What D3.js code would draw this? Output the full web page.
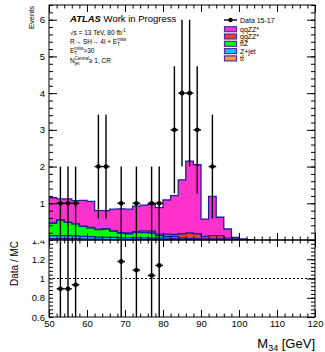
<!DOCTYPE html>
<html lang="en">
<head>
    <meta charset="UTF-8">
    <title>M34 control region</title>
    <script src="https://d3js.org/d3.v7.min.js"></script>
    <style>
        body { margin: 0; background: white; }
        svg { font-family: "Liberation Sans", Arial, Helvetica, sans-serif; }
        .axis path { display: none; }
        .axis line { stroke: black; stroke-width: 1; }
        .axis text { fill: black; }
    </style>
</head>
<body>
    <div id="chart"></div>

    <script>
        // bins are 2 GeV wide, low edges; everything above 104 GeV is empty
        var binLow = [50, 52, 54, 56, 58, 60, 62, 64, 66, 68, 70, 72, 74, 76, 78,
                      80, 82, 84, 86, 88, 90, 92, 94, 96, 98, 100, 102];
        var binWidth = 2;

        var dataCounts = [0, 1, 1, 1, 0, 0, 2, 2, 0, 1, 0, 1, 0, 1, 1,
                          0, 3, 4, 4, 3, 0, 2, 0, 0, 0, 0, 0];

        // stack, bottom to top
        var ttbar = [0.04, 0.04, 0.04, 0.04, 0.03, 0.02, 0.02, 0.01, 0.01, 0.01, 0.01, 0.01, 0.01, 0.01, 0.01,
                     0.01, 0, 0, 0, 0, 0, 0, 0, 0, 0, 0, 0];
        var zjet = [0.08, 0.08, 0.08, 0.07, 0.07, 0.07, 0.06, 0.06, 0.06, 0.05, 0.05, 0.05, 0.05, 0.04, 0.04,
                    0.04, 0.04, 0.03, 0.02, 0.02, 0.02, 0.02, 0.02, 0.01, 0.01, 0, 0];
        var ttZ = [0.34, 0.43, 0.36, 0.33, 0.27, 0.24, 0.20, 0.23, 0.17, 0.13, 0.11, 0.15, 0.14, 0.14, 0.07,
                   0.05, 0.05, 0.03, 0.02, 0.01, 0.01, 0, 0, 0, 0, 0, 0];
        var ggZZ = [0, 0, 0, 0, 0.01, 0.01, 0.01, 0.01, 0.01, 0.01, 0.02, 0.02, 0.05, 0.05, 0.04,
                    0.06, 0.06, 0.11, 0.15, 0.14, 0.07, 0.10, 0.10, 0.04, 0.02, 0.01, 0];
        var qqZZ = [0.69, 0.57, 0.64, 0.63, 0.70, 0.71, 0.51, 0.49, 0.59, 0.65, 0.65, 0.69, 0.70, 0.73, 0.72,
                    0.93, 1.06, 1.47, 1.96, 1.88, 0.47, 1.07, 0.50, 0.25, 0.04, 0.02, 0];

        var samples = [
            { key: "ttbar", label: "tt\u0304", values: ttbar, color: "#ff9a3c" },
            { key: "zjet", label: "Z+jet", values: zjet, color: "#00c8ff" },
            { key: "ttZ", label: "ttZ", values: ttZ, color: "#00ff00" },
            { key: "ggZZ", label: "ggZZ*", values: ggZZ, color: "#ff3636" },
            { key: "qqZZ", label: "qqZZ*", values: qqZZ, color: "#ff33cc" }
        ];
        var outline = "#1f1f9c";

        var xTicksMajor = [50, 60, 70, 80, 90, 100, 110, 120];
        var yTicksMain = [1, 2, 3, 4, 5, 6];
        var yTicksRatio = [0.6, 0.8, 1, 1.2, 1.4];
        var yTickLabelsRatio = ["0.6", "0.8", "1", "1.2", "1.4"];

        var W = 325, H = 352;
        var left = 49, right = 315;
        var mainTop = 5, mainBottom = 240;
        var ratioTop = 240, ratioBottom = 317;

        var svg = d3.select("#chart").append("svg")
            .attr("width", W)
            .attr("height", H);

        svg.append("rect").attr("width", W).attr("height", H).attr("fill", "white");

        var x = d3.scaleLinear().domain([50, 120]).range([left, right]);
        var y = d3.scaleLinear().domain([0, 6.4]).range([mainBottom, mainTop]);
        var yr = d3.scaleLinear().domain([0.6, 1.4]).range([ratioBottom, ratioTop]);

        var defs = svg.append("defs");
        defs.append("clipPath").attr("id", "clipMain").append("rect")
            .attr("x", left).attr("y", mainTop).attr("width", right - left).attr("height", mainBottom - mainTop);
        defs.append("clipPath").attr("id", "clipRatio").append("rect")
            .attr("x", left).attr("y", ratioTop).attr("width", right - left).attr("height", ratioBottom - ratioTop);
        defs.append("clipPath").attr("id", "clipRatioLabels").append("rect")
            .attr("x", 0).attr("y", ratioTop + 0.5).attr("width", left).attr("height", H - ratioTop);

        // ---- stack ----
        var rows = binLow.map(function(b, i) {
            var r = { low: b };
            samples.forEach(function(s) { r[s.key] = s.values[i]; });
            return r;
        });
        // closing point for the step curve
        var last = Object.assign({}, rows[rows.length - 1]);
        last.low = binLow[binLow.length - 1] + binWidth;
        var stackRows = rows.concat([last]);

        var series = d3.stack().keys(samples.map(function(s) { return s.key; }))(stackRows);

        var area = d3.area()
            .curve(d3.curveStepAfter)
            .x(function(d) { return x(d.data.low); })
            .y0(function(d) { return y(d[0]); })
            .y1(function(d) { return y(d[1]); });

        var topLine = d3.line()
            .curve(d3.curveStepAfter)
            .x(function(d) { return x(d.data.low); })
            .y(function(d) { return y(d[1]); });

        var stackG = svg.append("g").attr("clip-path", "url(#clipMain)");
        series.forEach(function(s, i) {
            stackG.append("path")
                .attr("d", area(s))
                .attr("fill", samples[i].color);
        });
        series.forEach(function(s, i) {
            stackG.append("path")
                .attr("d", topLine(s))
                .attr("fill", "none")
                .attr("stroke", outline)
                .attr("stroke-width", 1.3);
        });

        // ---- data points ----
        var points = binLow.map(function(b, i) {
            var mc = 0;
            samples.forEach(function(s) { mc += s.values[i]; });
            return { c: b + binWidth / 2, n: dataCounts[i], mc: mc };
        }).filter(function(d) { return d.n > 0; });

        var dataG = svg.append("g").attr("clip-path", "url(#clipMain)");
        dataG.selectAll(".ey").data(points).enter().append("line")
            .attr("x1", function(d) { return x(d.c); })
            .attr("x2", function(d) { return x(d.c); })
            .attr("y1", function(d) { return y(d.n - Math.sqrt(d.n)); })
            .attr("y2", function(d) { return y(d.n + Math.sqrt(d.n)); })
            .attr("stroke", "black").attr("stroke-width", 1.4);
        dataG.selectAll(".ex").data(points).enter().append("line")
            .attr("x1", function(d) { return x(d.c - binWidth / 2); })
            .attr("x2", function(d) { return x(d.c + binWidth / 2); })
            .attr("y1", function(d) { return y(d.n); })
            .attr("y2", function(d) { return y(d.n); })
            .attr("stroke", "black").attr("stroke-width", 1.4);
        dataG.selectAll("circle").data(points).enter().append("circle")
            .attr("cx", function(d) { return x(d.c); })
            .attr("cy", function(d) { return y(d.n); })
            .attr("r", 2.4)
            .attr("fill", "black");

        // ---- ratio ----
        var ratioPts = points.map(function(d) {
            return { c: d.c, r: d.n / d.mc, e: Math.sqrt(d.n) / d.mc };
        }).filter(function(d) { return d.r >= 0.6 && d.r <= 1.4; });

        var ratioG = svg.append("g").attr("clip-path", "url(#clipRatio)");
        ratioG.append("line")
            .attr("x1", x(50)).attr("x2", x(120))
            .attr("y1", yr(1)).attr("y2", yr(1))
            .attr("stroke", "black").attr("stroke-width", 1)
            .attr("stroke-dasharray", "2,2");
        ratioG.selectAll(".ey").data(ratioPts).enter().append("line")
            .attr("x1", function(d) { return x(d.c); })
            .attr("x2", function(d) { return x(d.c); })
            .attr("y1", function(d) { return yr(d.r - d.e); })
            .attr("y2", function(d) { return yr(d.r + d.e); })
            .attr("stroke", "black").attr("stroke-width", 1.4);
        ratioG.selectAll(".ex").data(ratioPts).enter().append("line")
            .attr("x1", function(d) { return x(d.c - binWidth / 2); })
            .attr("x2", function(d) { return x(d.c + binWidth / 2); })
            .attr("y1", function(d) { return yr(d.r); })
            .attr("y2", function(d) { return yr(d.r); })
            .attr("stroke", "black").attr("stroke-width", 1.4);
        ratioG.selectAll("circle").data(ratioPts).enter().append("circle")
            .attr("cx", function(d) { return x(d.c); })
            .attr("cy", function(d) { return yr(d.r); })
            .attr("r", 2.4)
            .attr("fill", "black");

        // ---- axes / ticks ----
        var xMinor = d3.range(50, 120.1, 2);
        var yMinorMain = d3.range(0, 6.41, 0.2);
        var yMinorRatio = d3.range(0.6, 1.401, 0.04);

        function ticks(axis, vals, size, pos) {
            svg.append("g").attr("class", "axis")
                .attr("transform", pos)
                .call(axis.tickValues(vals).tickSize(size).tickFormat(""));
        }

        // x ticks, main panel (top and bottom, no labels)
        ticks(d3.axisBottom(x), xMinor, -3.5, "translate(0," + mainBottom + ")");
        ticks(d3.axisBottom(x), xTicksMajor, -7, "translate(0," + mainBottom + ")");
        ticks(d3.axisTop(x), xMinor, -3.5, "translate(0," + mainTop + ")");
        ticks(d3.axisTop(x), xTicksMajor, -7, "translate(0," + mainTop + ")");
        // x ticks, ratio panel
        ticks(d3.axisTop(x), xMinor, -3.5, "translate(0," + ratioTop + ")");
        ticks(d3.axisTop(x), xTicksMajor, -7, "translate(0," + ratioTop + ")");
        ticks(d3.axisBottom(x), xMinor, -3.5, "translate(0," + ratioBottom + ")");
        svg.append("g").attr("class", "axis")
            .attr("transform", "translate(0," + ratioBottom + ")")
            .call(d3.axisBottom(x).tickValues(xTicksMajor).tickSize(-7).tickPadding(3.5)
                .tickFormat(d3.format("d")))
            .selectAll("text").style("font-size", "9.5px");

        // y ticks, main
        ticks(d3.axisLeft(y), yMinorMain, -4, "translate(" + left + ",0)");
        ticks(d3.axisRight(y), yMinorMain, -4, "translate(" + right + ",0)");
        ticks(d3.axisRight(y), yTicksMain, -8, "translate(" + right + ",0)");
        svg.append("g").attr("class", "axis")
            .attr("transform", "translate(" + left + ",0)")
            .call(d3.axisLeft(y).tickValues(yTicksMain).tickSize(-8).tickPadding(4)
                .tickFormat(d3.format("d")))
            .selectAll("text").style("font-size", "9.5px");

        // y ticks, ratio
        ticks(d3.axisLeft(yr), yMinorRatio, -4, "translate(" + left + ",0)");
        ticks(d3.axisRight(yr), yMinorRatio, -4, "translate(" + right + ",0)");
        ticks(d3.axisRight(yr), yTicksRatio, -8, "translate(" + right + ",0)");
        // labels of the ratio panel are cut by the upper pad, as in the original
        svg.append("g").attr("clip-path", "url(#clipRatioLabels)")
            .append("g").attr("class", "axis")
            .attr("transform", "translate(" + left + ",0)")
            .call(d3.axisLeft(yr).tickValues(yTicksRatio).tickSize(-8).tickPadding(4)
                .tickFormat(function(d, i) { return yTickLabelsRatio[i]; }))
            .selectAll("text").style("font-size", "9.5px");

        // frames
        svg.append("rect")
            .attr("x", left).attr("y", mainTop)
            .attr("width", right - left).attr("height", mainBottom - mainTop)
            .attr("fill", "none").attr("stroke", "black").attr("stroke-width", 1);
        svg.append("rect")
            .attr("x", left).attr("y", ratioTop)
            .attr("width", right - left).attr("height", ratioBottom - ratioTop)
            .attr("fill", "none").attr("stroke", "black").attr("stroke-width", 1);

        // axis titles
        svg.append("text")
            .attr("transform", "translate(34," + (mainTop + 1) + ") rotate(-90)")
            .attr("text-anchor", "end")
            .style("font-size", "7.5px")
            .text("Events");
        svg.append("text")
            .attr("transform", "translate(18," + (ratioTop + 1) + ") rotate(-90)")
            .attr("text-anchor", "end")
            .style("font-size", "10px")
            .text("Data / MC");
        var xt = svg.append("text")
            .attr("x", right).attr("y", 348)
            .attr("text-anchor", "end")
            .style("font-size", "13px");
        xt.append("tspan").text("M");
        xt.append("tspan").attr("dy", 3).style("font-size", "9px").text("34");
        xt.append("tspan").attr("dy", -3).text(" [GeV]");

        // ---- labels ----
        var atl = svg.append("text").attr("x", 70).attr("y", 22).style("font-size", "9.5px");
        atl.append("tspan").style("font-weight", "bold").style("font-style", "italic").text("ATLAS");
        atl.append("tspan").text(" Work in Progress");

        // text with a stacked superscript / subscript after each part
        function richLine(xPos, yPos, size, parts) {
            var cx = xPos;
            parts.forEach(function(p) {
                var t = svg.append("text").attr("x", cx).attr("y", yPos)
                    .style("font-size", size + "px").text(p[0]);
                var w = t.node().getComputedTextLength();
                var extra = 0;
                if (p[1]) {
                    var sp = svg.append("text").attr("x", cx + w).attr("y", yPos - size * 0.45)
                        .style("font-size", (size * 0.68) + "px").text(p[1]);
                    extra = Math.max(extra, sp.node().getComputedTextLength());
                }
                if (p[2]) {
                    var sb = svg.append("text").attr("x", cx + w).attr("y", yPos + size * 0.3)
                        .style("font-size", (size * 0.68) + "px").text(p[2]);
                    extra = Math.max(extra, sb.node().getComputedTextLength());
                }
                cx += w + extra;
            });
        }
        richLine(70, 35, 6.5, [["\u221As = 13 TeV, 80 fb", "-1", null]]);
        richLine(70, 44, 6.5, [["R\u2192 SH\u2192 4l + E", "miss", "T"]]);
        richLine(70, 53, 6.5, [["E", "miss", "T"], [">30", null, null]]);
        richLine(70, 63, 6.5, [["N", "Central", "jet"], [" \u2265 1, CR", null, null]]);

        // ---- legend ----
        var legend = svg.append("g").attr("transform", "translate(224,0)");
        legend.append("line").attr("x1", 0).attr("x2", 13).attr("y1", 20).attr("y2", 20)
            .attr("stroke", "black").attr("stroke-width", 1.4);
        legend.append("circle").attr("cx", 6.5).attr("cy", 20).attr("r", 2.2).attr("fill", "black");
        legend.append("text").attr("x", 16).attr("y", 22.5).style("font-size", "7px").text("Data 15-17");

        var legendOrder = samples.slice().reverse();
        legendOrder.forEach(function(s, i) {
            var cy = 29.2 + i * 7.3;
            legend.append("rect")
                .attr("x", 0.5).attr("y", cy - 2.5)
                .attr("width", 12).attr("height", 5)
                .attr("fill", s.color)
                .attr("stroke", "#4a2fa0").attr("stroke-width", 1.2);
            legend.append("text").attr("x", 16).attr("y", cy + 2.5)
                .style("font-size", "7px").text(s.label);
        });
    </script>
</body>
</html>
